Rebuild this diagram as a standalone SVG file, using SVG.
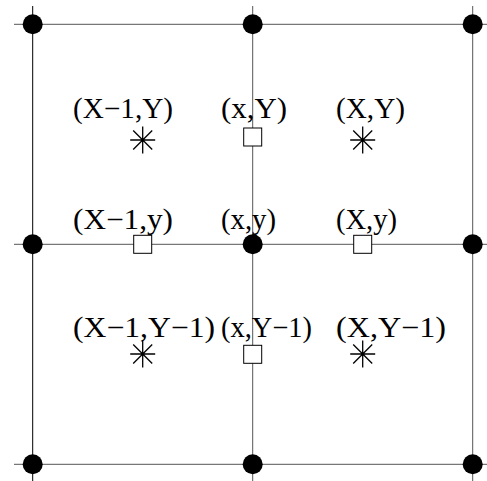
<svg xmlns="http://www.w3.org/2000/svg" width="487" height="481" viewBox="0 0 487 481">
<style>
.ln{stroke:#555;stroke-width:1;fill:none}
.lnk{stroke:#000;stroke-width:1;fill:none}
.dot{fill:#000}
.sq{fill:#fff;stroke:#000;stroke-width:1}
.st{stroke:#000;stroke-width:1.3;fill:none}
text{font-family:"Liberation Serif","Times New Roman",serif;font-size:28.5px;fill:#000}
</style>
<defs>
<path id="star" d="M-12.5,0H12.5M0,-13.5V13.5M-9.5,-9.5L9.5,9.5M-9.5,9.5L9.5,-9.5"/>
</defs>
<g id="connectors">
<line class="lnk" x1="32.7" y1="6" x2="32.7" y2="481"/>
<line class="ln" x1="252.7" y1="6" x2="252.7" y2="481"/>
<line class="ln" x1="472.7" y1="6" x2="472.7" y2="481"/>
<line class="ln" x1="14" y1="24.3" x2="487" y2="24.3"/>
<line class="ln" x1="14" y1="244.3" x2="487" y2="244.3"/>
<line class="ln" x1="14" y1="464.3" x2="487" y2="464.3"/>
</g>
<g id="corners">
<circle class="dot" cx="32.7" cy="24.3" r="10"/>
<circle class="dot" cx="252.7" cy="24.3" r="10"/>
<circle class="dot" cx="472.7" cy="24.3" r="10"/>
<circle class="dot" cx="32.7" cy="244.3" r="10"/>
<circle class="dot" cx="252.7" cy="244.3" r="10"/>
<circle class="dot" cx="472.7" cy="244.3" r="10"/>
<circle class="dot" cx="32.7" cy="464.3" r="10"/>
<circle class="dot" cx="252.7" cy="464.3" r="10"/>
<circle class="dot" cx="472.7" cy="464.3" r="10"/>
</g>
<g id="n-Xm1-Y"><use href="#star" class="st" x="142.7" y="140"/><text x="73" y="118" textLength="100" lengthAdjust="spacingAndGlyphs">(X−1,Y)</text></g>
<g id="n-x-Y"><rect class="sq" x="243.7" y="128" width="18" height="18"/><text x="221" y="118" textLength="66" lengthAdjust="spacingAndGlyphs">(x,Y)</text></g>
<g id="n-X-Y"><use href="#star" class="st" x="362.7" y="140"/><text x="336" y="118" textLength="69" lengthAdjust="spacingAndGlyphs">(X,Y)</text></g>
<g id="n-Xm1-y"><rect class="sq" x="133.7" y="235.3" width="18" height="18"/><text x="73" y="229" textLength="100" lengthAdjust="spacingAndGlyphs">(X−1,y)</text></g>
<g id="n-x-y"><text x="221" y="229" textLength="55" lengthAdjust="spacingAndGlyphs">(x,y)</text></g>
<g id="n-X-y"><rect class="sq" x="353.7" y="235.3" width="18" height="18"/><text x="336" y="229" textLength="61" lengthAdjust="spacingAndGlyphs">(X,y)</text></g>
<g id="n-Xm1-Ym1"><use href="#star" class="st" x="142.7" y="354"/><text x="73" y="337" textLength="142" lengthAdjust="spacingAndGlyphs">(X−1,Y−1)</text></g>
<g id="n-x-Ym1"><rect class="sq" x="243.7" y="345.3" width="18" height="18"/><text x="221" y="337" textLength="91" lengthAdjust="spacingAndGlyphs">(x,Y−1)</text></g>
<g id="n-X-Ym1"><use href="#star" class="st" x="362.7" y="354"/><text x="336" y="337" textLength="110" lengthAdjust="spacingAndGlyphs">(X,Y−1)</text></g>
</svg>
